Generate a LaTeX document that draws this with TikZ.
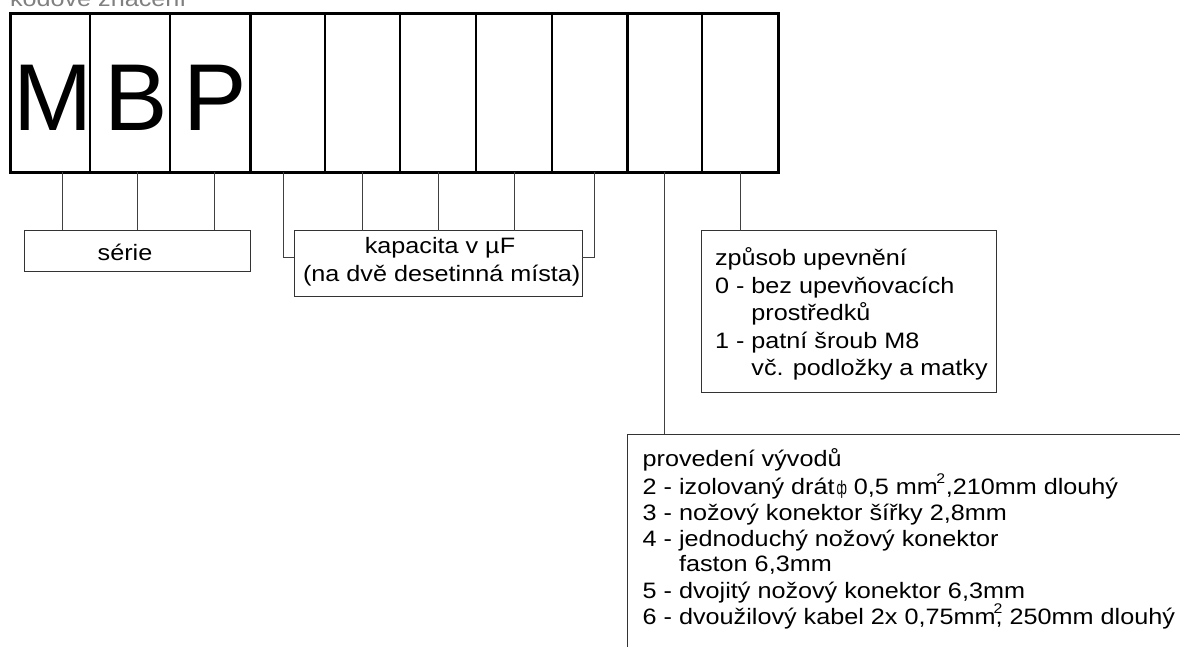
\documentclass[tikz,border=0pt]{standalone}
\usepackage{fontspec}
\setmainfont{Liberation Sans}[FakeStretch=1.13]
\newfontfamily\bigfont{Liberation Sans}
\begin{document}
\begin{tikzpicture}[x=1pt,y=-1pt,
  cell/.style={draw, line width=1.3pt, minimum height=159pt, inner sep=0pt, outer sep=0pt, anchor=center},
  lbl/.style={draw=black!80, line width=1pt, inner sep=0pt, outer sep=0pt, anchor=north west},
  conn/.style={draw=black!75, line width=1pt},
  txt/.style={inner sep=0pt, outer sep=0pt, anchor=base west, font=\fontsize{22.3}{26}\selectfont},
  ctxt/.style={txt, anchor=base},
  big/.style={inner sep=0pt, outer sep=0pt, anchor=base, font=\bigfont\fontsize{95}{95}\selectfont}]
\useasboundingbox (0,0) rectangle (1180,646);
% title (cut off at the top)
\node[txt, text=black!50] (title) at (10,6.5) {kódové značení};
% code cells
\node[cell, minimum width=80pt] (c1) at (50,92.5) {};
\node[cell, minimum width=80pt] (c2) at (130,92.5) {};
\node[cell, minimum width=80pt] (c3) at (210,92.5) {};
\node[cell, minimum width=75pt] (c4) at (287.5,92.5) {};
\node[cell, minimum width=75pt] (c5) at (362.5,92.5) {};
\node[cell, minimum width=76pt] (c6) at (438,92.5) {};
\node[cell, minimum width=76pt] (c7) at (514,92.5) {};
\node[cell, minimum width=75pt] (c8) at (589.5,92.5) {};
\node[cell, minimum width=75pt] (c9) at (664.5,92.5) {};
\node[cell, minimum width=76pt] (c10) at (740,92.5) {};
\draw[line width=3pt] (c1.north west) rectangle (c10.south east);
\draw[line width=3pt] (c3.north east) -- (c3.south east);
\draw[line width=3pt] (c8.north east) -- (c8.south east);
\node[big] (lM) at (52.7,130) {M};
\node[big] (lB) at (136,130) {B};
\node[big] (lP) at (215,130) {P};
% label boxes
\node[lbl, minimum width=226pt, minimum height=41pt] (serie) at (24,230) {};
\node[lbl, minimum width=288pt, minimum height=65.5pt] (kap) at (294,230.5) {};
\node[lbl, minimum width=295pt, minimum height=162pt] (upev) at (701.7,230.7) {};
\node[lbl, minimum width=600pt, minimum height=250pt] (prov) at (627,434) {};
% texts
\node[ctxt] (tserie) at (125,260) {série};
\node[ctxt] (tk1) at (440,253) {kapacita v µF};
\node[ctxt] (tk2) at (441.7,281.7) {(na dvě desetinná místa)};
\node[txt] (tu1) at (715,265) {způsob upevnění};
\node[txt] (tu2) at (715,293.5) {0 - bez upevňovacích};
\node[txt] (tu3) at (715,320.7) {\phantom{0 - }prostředků};
\node[txt] (tu4) at (715,348.3) {1 - patní šroub M8};
\node[txt] (tu5) at (715,375) {\phantom{1 - }vč. podložky a matky};
\node[txt] (tp1) at (642.7,466.7) {provedení vývodů};
\node[txt] (tp2) at (642.7,494) {2 - izolovaný drát\kern2pt\scalebox{0.5}[0.85]{ф} 0,5 mm\kern-1.5pt\raisebox{11pt}{\fontsize{14}{14}\selectfont 2}\kern0.5pt,210mm dlouhý};
\node[txt] (tp3) at (642.7,520) {3 - nožový konektor šířky 2,8mm};
\node[txt] (tp4) at (642.7,546) {4 - jednoduchý nožový konektor};
\node[txt] (tp5) at (642.7,571.7) {\phantom{4 - }faston 6,3mm};
\node[txt] (tp6) at (642.7,598.3) {5 - dvojitý nožový konektor 6,3mm};
\node[txt] (tp7) at (642.7,624) {6 - dvoužilový kabel 2x 0,75mm\kern-2pt\rlap{\raisebox{11pt}{\fontsize{14}{14}\selectfont 2}}\kern2pt, 250mm dlouhý};
% connectors: série
\draw[conn] ([xshift=12pt]c1.south) -- ([xshift=12pt]c1.south |- serie.north);
\draw[conn] ([xshift=7pt]c2.south) -- ([xshift=7pt]c2.south |- serie.north);
\draw[conn] ([xshift=4pt]c3.south) -- ([xshift=4pt]c3.south |- serie.north);
% connectors: kapacita
\draw[conn] ([xshift=-4.2pt]c4.south) |- ([yshift=5.5pt]kap.west);
\draw[conn] (c5.south) -- (c5.south |- kap.north);
\draw[conn] (c6.south) -- (c6.south |- kap.north);
\draw[conn] (c7.south) -- (c7.south |- kap.north);
\draw[conn] ([xshift=4.5pt]c8.south) |- ([yshift=5.5pt]kap.east);
% connectors: right side
\draw[conn] (c9.south) -- (c9.south |- prov.north);
\draw[conn] (c10.south) -- (c10.south |- upev.north);
\end{tikzpicture}
\end{document}
